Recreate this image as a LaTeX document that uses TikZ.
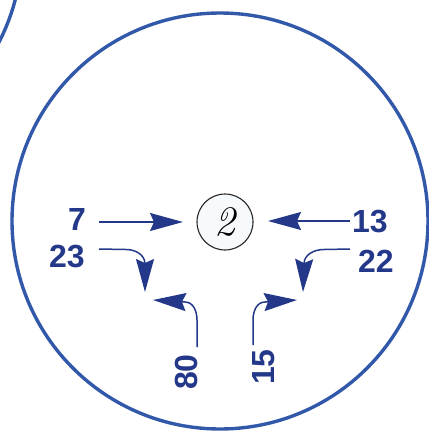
\documentclass[tikz,border=0pt]{standalone}
\usepackage{fontspec}
\setsansfont{Liberation Sans}
\usetikzlibrary{arrows.meta}
\definecolor{ringblue}{RGB}{50,88,170}
\definecolor{navy}{RGB}{36,56,138}
\definecolor{palefill}{RGB}{246,250,252}
\tikzset{
  num/.style={font=\sffamily\bfseries\fontsize{32}{32}\selectfont, text=navy, inner sep=0pt},
  arr/.style={draw=navy, line width=1.5pt, -{Stealth[length=33pt,width=18pt,inset=4pt]}},
  ring/.style={draw=ringblue, line width=3.4pt},
}
\begin{document}
\begin{tikzpicture}[x=1pt,y=-1pt]
\useasboundingbox (0,0) rectangle (429,432);
\begin{scope}
\clip (0,0) rectangle (429,432);
\draw[ring] (-186,-53) circle[radius=208pt];
\draw[ring] (220,221) circle[radius=208pt];
\end{scope}
\node[circle, draw=black!85, line width=1.1pt, fill=palefill, minimum size=56pt, inner sep=0pt,
      font=\itshape\fontsize{42}{42}\selectfont] (c2) at (225,222) {2};
\node[num] (l7) at (77,219) {7};
\node[num] (l23) at (67,257) {23};
\node[num] (l13) at (370,222) {13};
\node[num] (l22) at (376,261) {22};
\node[num, rotate=90] (l80) at (186,372) {80};
\node[num, rotate=90] (l15) at (264,367) {15};
\coordinate (s7) at (99,222);
\coordinate (t7) at (183,222);
\coordinate (s13) at (350,221);
\coordinate (t13) at (268,221);
\coordinate (s23) at (99,249);
\coordinate (t23) at (145,292);
\coordinate (s22) at (350,249);
\coordinate (t22) at (303,292);
\coordinate (s80) at (197,347);
\coordinate (t80) at (153,300);
\coordinate (s15) at (253,345);
\coordinate (t15) at (297,300);
\draw[arr] (s7) -- (t7);
\draw[arr] (s13) -- (t13);
\draw[arr] (s23) -- (126,249.5) to[out=0,in=90] (145,264) -- (t23);
\draw[arr] (s22) -- (324,249.5) to[out=180,in=90] (304,264) -- (t22);
\draw[arr] (s80) -- (197,320) to[out=90,in=0] (185,302) -- (t80);
\draw[arr] (s15) -- (253,320) to[out=90,in=180] (265,302) -- (t15);
\end{tikzpicture}
\end{document}
